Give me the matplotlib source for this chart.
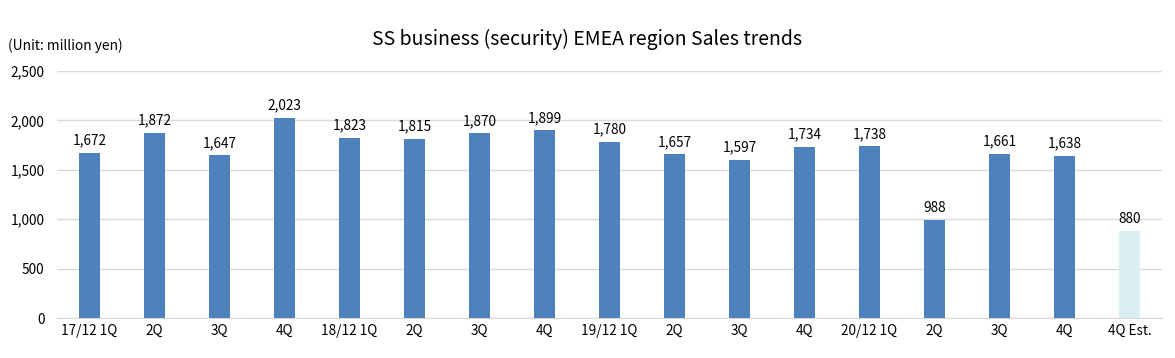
import matplotlib
matplotlib.use('Agg')
import matplotlib.pyplot as plt

plt.rcParams['font.family'] = ['Noto Sans CJK JP', 'DejaVu Sans']

# 四半期ラベル
categories = ['17/12 1Q', '2Q', '3Q', '4Q', '18/12 1Q', '2Q', '3Q', '4Q',
              '19/12 1Q', '2Q', '3Q', '4Q', '20/12 1Q', '2Q', '3Q', '4Q', '4Q Est.']
sales = [1672, 1872, 1647, 2023, 1823, 1815, 1870, 1899,
         1780, 1657, 1597, 1734, 1738, 988, 1661, 1638, 880]
is_estimate = [False] * 16 + [True]
yticks = [0, 500, 1000, 1500, 2000, 2500]

fig = plt.figure(figsize=(11.75, 3.58), dpi=100)
ax = fig.add_axes([0.0485, 0.1117, 0.9405, 0.69])

x = list(range(len(categories)))
colors = ['#DAEEF3' if e else '#4F81BD' for e in is_estimate]
ax.bar(x, sales, width=0.31, color=colors, zorder=3)

for xi, v in zip(x, sales):
    ax.text(xi, v + 55, f'{v:,}', ha='center', va='bottom', fontsize=9.8)

ax.set_xlim(-0.5, len(categories) - 0.5)
ax.set_ylim(0, 2500)
ax.set_yticks(yticks)
ax.set_yticklabels([f'{t:,}' for t in yticks], fontsize=9.8)
ax.set_xticks(x)
ax.set_xticklabels(categories, fontsize=9.8)
ax.tick_params(length=0)
ax.tick_params(axis='y', pad=9)
ax.tick_params(axis='x', pad=4)
ax.grid(axis='y', color='#D9D9D9', linewidth=1, zorder=0)
for s in ['top', 'right', 'left']:
    ax.spines[s].set_visible(False)
ax.spines['bottom'].set_color('#D9D9D9')

fig.text(0.5, 0.89, 'SS business (security) EMEA region Sales trends',
         ha='center', va='center', fontsize=14)
fig.text(0.007, 0.873, '(Unit: million yen)', ha='left', va='center', fontsize=9.9)

fig.savefig('out.png', dpi=100)
